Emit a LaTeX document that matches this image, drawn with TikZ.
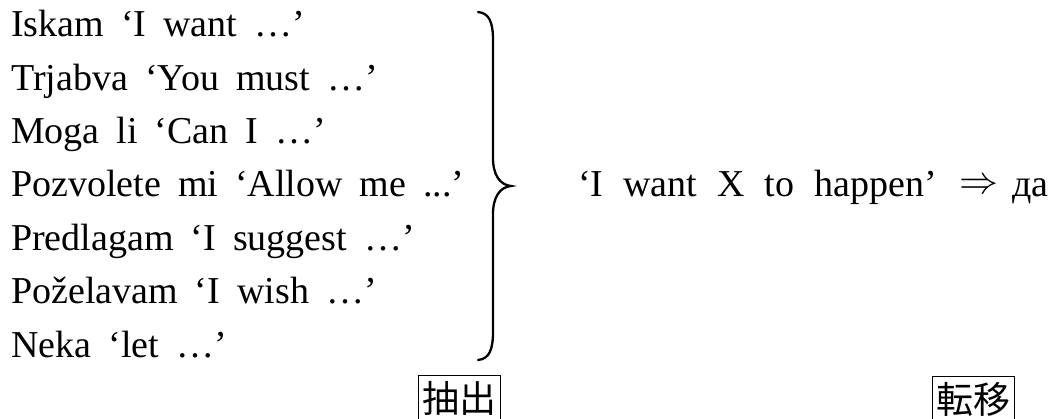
\documentclass[tikz,border=0pt]{standalone}
\usepackage{fontspec}
\usepackage{graphicx}
\setmainfont{Liberation Serif}
\newfontfamily\cjk{Noto Sans CJK JP}
\begin{document}
\begin{tikzpicture}[x=1pt,y=-1pt,
  txt/.style={anchor=base west, inner sep=0pt, font=\fontsize{38}{45}\selectfont,
    execute at begin node={\spaceskip=17pt plus 2pt\relax}},
  widetxt/.style={txt, execute at begin node={\spaceskip=20pt plus 2pt\relax}},
  boxlabel/.style={draw, line width=1.2pt, anchor=north west, inner xsep=4pt, inner ysep=6pt,
    font=\cjk\fontsize{37}{42}\selectfont},
  bracepath/.style={line width=2.3pt, line cap=round}]
\useasboundingbox (0,0) rectangle (1051,419);
\node[txt] (l1) at (11,37)    {Iskam ‘I want …’};
\node[txt] (l2) at (11,90.3)  {Trjabva ‘You must …’};
\node[txt] (l3) at (11,143.7) {Moga li ‘Can I …’};
\node[txt] (l4) at (11,197)   {Pozvolete mi ‘Allow me ...’};
\node[txt] (l5) at (11,250.3) {Predlagam ‘I suggest …’};
\node[txt] (l6) at (11,303.7) {Poželavam ‘I wish …’};
\node[txt] (l7) at (11,357)   {Neka ‘let …’};
\draw[bracepath] (478,12) .. controls (489,13) and (493,22) .. (493,40)
  -- (493,158) .. controls (493,175) and (500,185) .. (511,186)
  .. controls (500,187) and (493,197) .. (493,214)
  -- (493,332) .. controls (493,350) and (489,359) .. (478,360);
\node[widetxt] (want) at (578,197) {‘I want X to happen’};
\node[txt] (arr) at (959,194) {\resizebox{39pt}{!}{$\Rightarrow$}};
\node[txt,anchor=base east] (da) at (1049,197) {да};
\node[boxlabel] (b1) at (418,375) {抽出};
\node[boxlabel] (b2) at (932,376) {転移};
\end{tikzpicture}
\end{document}
